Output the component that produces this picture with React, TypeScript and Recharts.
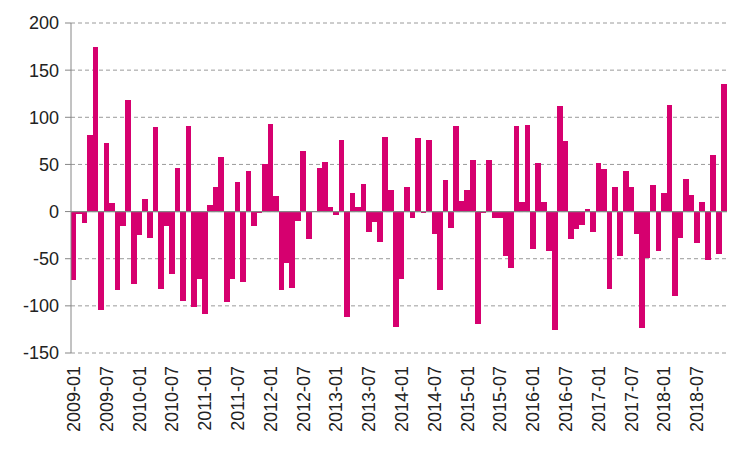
import React from "react";
import {
  BarChart,
  Bar,
  XAxis,
  YAxis,
  CartesianGrid,
  ReferenceLine,
} from "recharts";

const YEARS = [2009, 2010, 2011, 2012, 2013, 2014, 2015, 2016, 2017, 2018];
const MONTHS = ["01", "02", "03", "04", "05", "06", "07", "08", "09", "10", "11", "12"];

const v2009 = [-73, -3, -12, 81, 175, -104, 73, 9, -83, -15, 118, -77];
const v2010 = [-25, 13, -28, 90, -82, -15, -66, 46, -95, 91, -101, -72];
const v2011 = [-109, 7, 26, 58, -96, -72, 31, -75, 43, -15, -2, 50];
const v2012 = [93, 17, -83, -55, -81, -10, 64, -29, 0, 46, 53, 5];
const v2013 = [-4, 76, -112, 20, 5, 29, -22, -11, -32, 79, 23, -122];
const v2014 = [-72, 26, -7, 78, -1, 76, -24, -83, 33, -17, 91, 11];
const v2015 = [23, 55, -119, -1, 55, -7, -7, -47, -60, 91, 10, 92];
const v2016 = [-40, 52, 10, -42, -126, 112, 75, -29, -19, -14, 3, -22];
const v2017 = [52, 45, -82, 26, -47, 43, 26, -24, -123, -49, 28, -42];
const v2018 = [20, 113, -90, -28, 35, 18, -33, 10, -51, 60, -45, 135];

const VALUES = [v2009, v2010, v2011, v2012, v2013, v2014, v2015, v2016, v2017, v2018];
const Y_TICKS = [-150, -100, -50, 0, 50, 100, 150, 200];

const data = YEARS.flatMap((y, yi) =>
  MONTHS.map((m, mi) => ({ month: `${y}-${m}`, value: VALUES[yi][mi] }))
);

const FONT = "'Liberation Sans', Arial, sans-serif";
const BAND = 656 / 120;

function MonthTick({ x, y, payload }: any) {
  return (
    <text
      x={x}
      y={y}
      transform={`rotate(-90, ${x}, ${y})`}
      textAnchor="end"
      dy="0.35em"
      fontSize={18}
      fontFamily={FONT}
      fill="#222"
    >
      {payload.value}
    </text>
  );
}

// bars touch each other in the original: draw each one the full band wide,
// centred on the position recharts gives
function SolidBar({ x, y, width, height, fill }: any) {
  if (!height) return null;
  const top = height < 0 ? y + height : y;
  const cx = x + width / 2;
  return (
    <rect
      x={cx - BAND / 2}
      y={top}
      width={BAND + 0.2}
      height={Math.abs(height)}
      fill={fill}
      shapeRendering="crispEdges"
    />
  );
}

export default function App() {
  return (
    <div style={{ position: "absolute", left: 0, top: 0, background: "#fff" }}>
      <BarChart
        width={750}
        height={450}
        data={data}
        margin={{ top: 23, right: 23, left: 0, bottom: 0 }}
        barCategoryGap={0}
      >
        <CartesianGrid
          vertical={false}
          stroke="#9a9a9a"
          strokeDasharray="4 3"
        />
        <XAxis
          dataKey="month"
          interval={5}
          height={97}
          axisLine={false}
          tickLine={false}
          tickMargin={7}
          tick={<MonthTick />}
        />
        <YAxis
          domain={[-150, 200]}
          ticks={Y_TICKS}
          width={71}
          stroke="#868686"
          tickSize={6}
          tickMargin={6}
          tick={{ fontSize: 18, fontFamily: FONT, fill: "#222" }}
        />
        <Bar
          dataKey="value"
          fill="#D6006F"
          shape={<SolidBar />}
          isAnimationActive={false}
        />
        <ReferenceLine y={0} stroke="#868686" strokeWidth={1.2} />
      </BarChart>
    </div>
  );
}
